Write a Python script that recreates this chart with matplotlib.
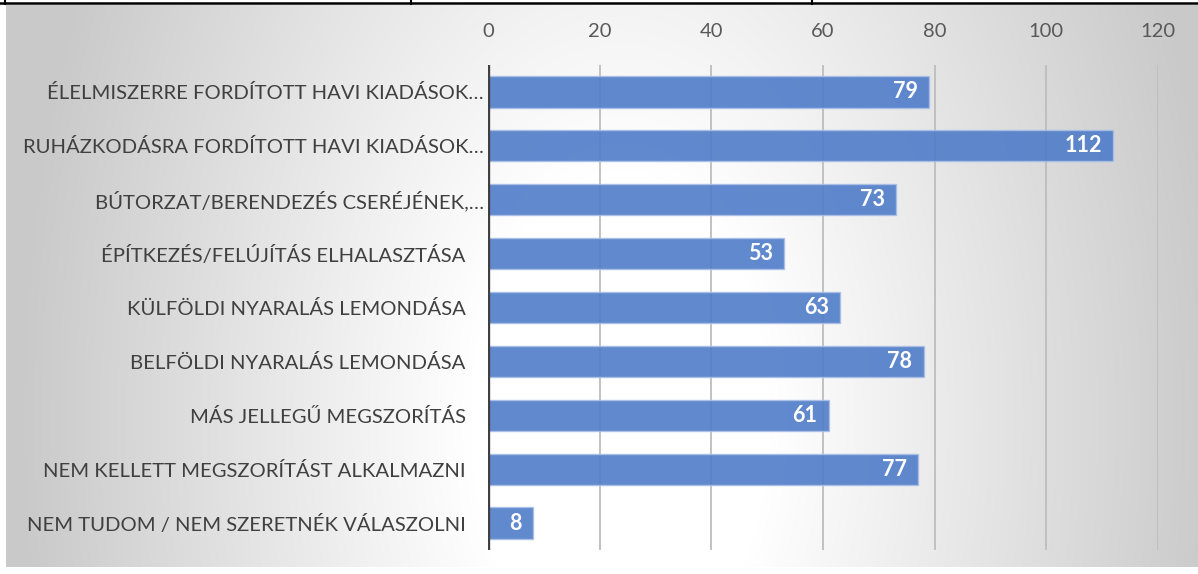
import numpy as np
import matplotlib
matplotlib.use("Agg")
import matplotlib.pyplot as plt
from matplotlib.lines import Line2D

categories = [
    "ÉLELMISZERRE FORDÍTOTT HAVI KIADÁSOK…",
    "RUHÁZKODÁSRA FORDÍTOTT HAVI KIADÁSOK…",
    "BÚTORZAT/BERENDEZÉS CSERÉJÉNEK,…",
    "ÉPÍTKEZÉS/FELÚJÍTÁS ELHALASZTÁSA",
    "KÜLFÖLDI NYARALÁS LEMONDÁSA",
    "BELFÖLDI NYARALÁS LEMONDÁSA",
    "MÁS JELLEGŰ MEGSZORÍTÁS",
    "NEM KELLETT MEGSZORÍTÁST ALKALMAZNI",
    "NEM TUDOM / NEM SZERETNÉK VÁLASZOLNI",
]
values = [79, 112, 73, 53, 63, 78, 61, 77, 8]
xticks = [0, 20, 40, 60, 80, 100, 120]

W, H = 1198, 574
fig = plt.figure(figsize=(W / 100, H / 100), dpi=100)
fig.patch.set_facecolor("white")

# background gradient panel
bx0, by0, bx1, by1 = 6, 5, 1198, 567
bg = fig.add_axes([bx0 / W, 1 - by1 / H, (bx1 - bx0) / W, (by1 - by0) / H])
xs = np.arange(bx0, bx1)
ys = np.arange(by0, by1)
X, Y = np.meshgrid(xs, ys)
cx, cy = 620, 420
r = np.sqrt((X - cx) ** 2 + ((Y - cy) * 0.6) ** 2)
t = np.clip((r - 150) / 450, 0, 1)
v = 1 - 0.21 * t
img = np.dstack([v, v, v])
bg.imshow(img, aspect="auto", extent=(0, 1, 0, 1), interpolation="bilinear")
bg.set_axis_off()

# table remnant lines at the top
fig.add_artist(Line2D([0, 1], [1 - 2.5 / H, 1 - 2.5 / H], color="black", lw=1.8, transform=fig.transFigure))
for px in [5, 411, 812]:
    fig.add_artist(Line2D([px / W, px / W], [1, 1 - 4 / H], color="black", lw=1.5, transform=fig.transFigure))

# main axes
left, right, top, bottom = 488, 1158, 65, 550
ax = fig.add_axes([left / W, 1 - bottom / H, (right - left) / W, (bottom - top) / H])
ax.patch.set_alpha(0)
y = np.arange(len(categories))
ax.set_xlim(0, 120)
ax.set_ylim(len(categories) - 0.5, -0.5)
ax.set_xticks(xticks)
ax.xaxis.tick_top()
ax.grid(axis="x", color="#bdbdbd", lw=1.3, zorder=0)
ax.set_axisbelow(True)

bars = ax.barh(y, values, height=0.58, color="#4f7cc9", alpha=0.9,
               edgecolor="#a9bfe6", linewidth=1.0, zorder=2)
for yi, val in zip(y, values):
    ax.annotate(str(val), xy=(val, yi), xytext=(-11, 0), textcoords="offset pixels",
                ha="right", va="center", color="white", fontsize=15.5,
                fontweight="bold", family="Lato", zorder=3)

ax.axvline(0, color="#404040", lw=2.4, zorder=4)
for s in ax.spines.values():
    s.set_visible(False)

ax.set_yticks(y)
ax.set_yticklabels(categories, fontsize=14.6, color="#404040", family="Lato")
ax.tick_params(axis="y", length=0, pad=16)
ax.tick_params(axis="x", length=0, pad=18, labelsize=14.5, labelcolor="#595959")
for lab in ax.get_xticklabels():
    lab.set_family("Lato")
for i, c in enumerate(categories):
    if c.endswith("…"):
        ax.yaxis.get_major_ticks()[i].set_pad(3)

fig.savefig("out.png", dpi=100)
